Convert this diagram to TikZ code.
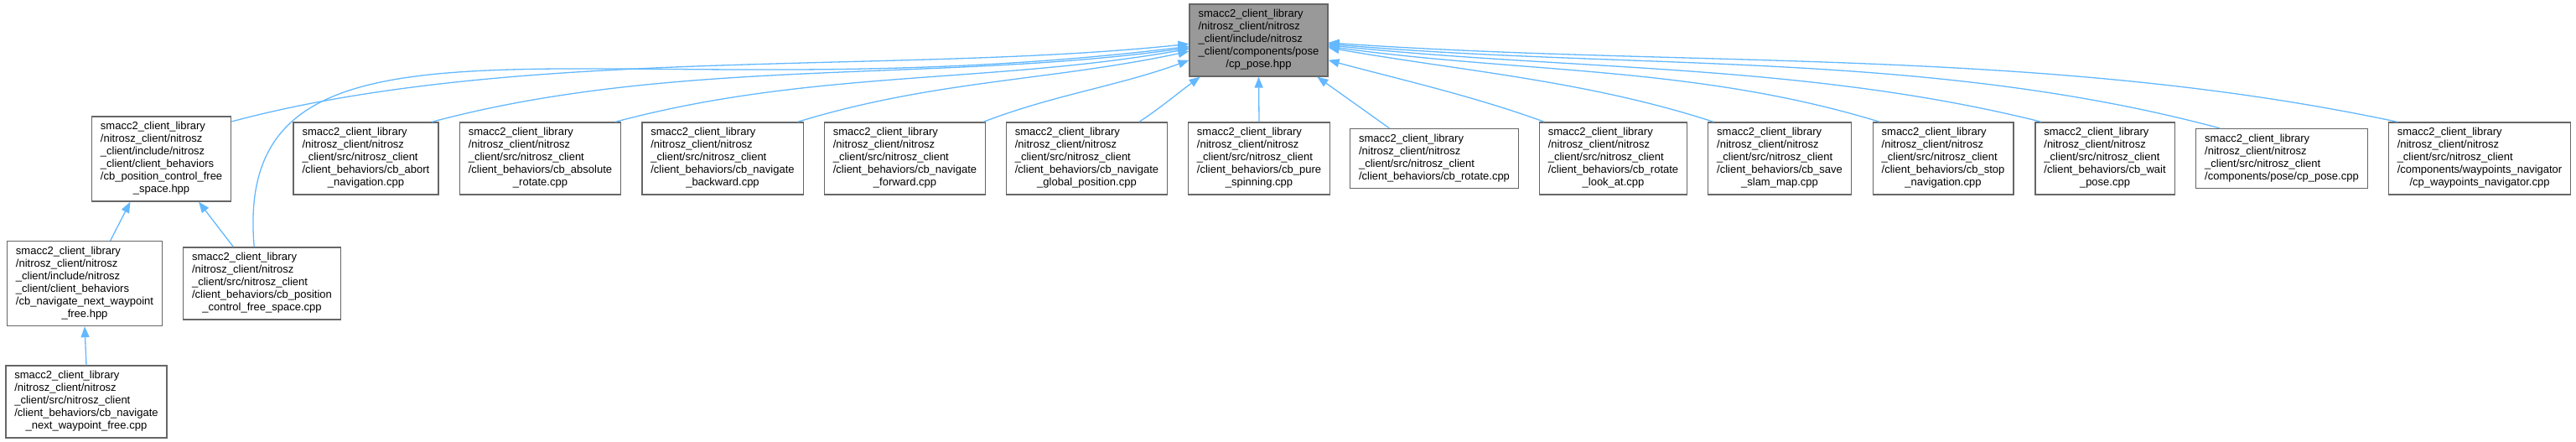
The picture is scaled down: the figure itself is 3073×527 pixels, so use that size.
\documentclass[tikz,border=0pt]{standalone}
\usepackage{fontspec}
\setmainfont{Liberation Sans}
\usetikzlibrary{arrows.meta}
\definecolor{edgeblue}{HTML}{63B8FF}
\definecolor{boxgray}{HTML}{666666}
\definecolor{rootgray}{HTML}{999999}
\newcommand{\flines}[2]{\begin{tabular}{@{}l@{}}#1\\\multicolumn{1}{@{}c@{}}{#2}\end{tabular}}
\newcommand{\srcfile}[2]{\flines{smacc2\_client\_library\\/nitrosz\_client/nitrosz\\\_client/src/nitrosz\_client\\#1}{#2}}
\newcommand{\srcfilefour}[1]{\begin{tabular}{@{}l@{}}smacc2\_client\_library\\/nitrosz\_client/nitrosz\\\_client/src/nitrosz\_client\\#1\end{tabular}}
\tikzset{
  file/.style={draw=boxgray, fill=white, line width=1.3pt, inner xsep=10.5pt, inner ysep=5.5pt,
    font=\fontsize{13}{15}\selectfont},
  rootfile/.style={file, fill=rootgray},
  dep/.style={draw=edgeblue, line width=1.3pt, -{Triangle[length=13pt,width=10pt]}}
}
\begin{document}
\begin{tikzpicture}[x=1pt,y=1pt]
\useasboundingbox (0,0) rectangle (3073,527);
\node[rootfile] (pose) at (1501.5,479)
  {\flines{smacc2\_client\_library\\/nitrosz\_client/nitrosz\\\_client/include/nitrosz\\\_client/components/pose}{/cp\_pose.hpp}};
\node[file] (hppfree) at (192.6,337.5)
  {\flines{smacc2\_client\_library\\/nitrosz\_client/nitrosz\\\_client/include/nitrosz\\\_client/client\_behaviors\\/cb\_position\_control\_free}{\_space.hpp}};
\node[file] (hppnext) at (101,189)
  {\flines{smacc2\_client\_library\\/nitrosz\_client/nitrosz\\\_client/include/nitrosz\\\_client/client\_behaviors\\/cb\_navigate\_next\_waypoint}{\_free.hpp}};
\node[file] (cppfree) at (312.5,189) {\srcfile{/client\_behaviors/cb\_position}{\_control\_free\_space.cpp}};
\node[file] (cppnext) at (103,48) {\srcfile{/client\_behaviors/cb\_navigate}{\_next\_waypoint\_free.cpp}};
\foreach \n/\x/\a/\b in {abort/436.5/abort/navigation.cpp, absolute/644.5/absolute/rotate.cpp,
  backward/862/navigate/backward.cpp, forward/1079.5/navigate/forward.cpp,
  global/1296.5/navigate/global\_position.cpp, pure/1502/pure/spinning.cpp,
  lookat/1924.5/rotate/look\_at.cpp, save/2123/save/slam\_map.cpp,
  stop/2318/stop/navigation.cpp, wait/2511/wait/pose.cpp}{
  \node[file] (\n) at (\x,338) {\srcfile{/client\_behaviors/cb\_\a}{\_\b}};
}
\node[file] (rotate) at (1711,338) {\srcfilefour{/client\_behaviors/cb\_rotate.cpp}};
\node[file] (cppose) at (2722,338) {\srcfilefour{/components/pose/cp\_pose.cpp}};
\node[file] (waypoints) at (2958,338)
  {\srcfile{/components/waypoints\_navigator}{/cp\_waypoints\_navigator.cpp}};
\draw[dep] (hppnext.59) -- (hppfree.234);
\draw[dep] (cppfree.128) -- (hppfree.311);
\draw[dep] (cppnext.north) -- (hppnext.south);
\draw[dep] (cppfree.102) .. controls +(95:330) and +(187:700) .. (pose.185);
\foreach \n/\s/\o/\t/\i/\r in {hppfree/28/15/183/186/350, abort/29/15/186/188/300,
  absolute/26/15/187/190/240, backward/26/17/189/192/170, forward/25/21/196/200/90,
  global/35/33/212/216/30, lookat/152/160/344/345/90, save/151/162/354/350/160,
  stop/150/163/355/352/230, wait/150/166/356/354/290, cppose/154/165/357/355/360,
  waypoints/156/168/358/356/430}{
  \draw[dep] (\n.\s) .. controls +(\o:\r) and +(\i:\r) .. (pose.\t);
}
\draw[dep] (pure.north) -- (pose.south);
\draw[dep] (rotate.146) -- (pose.328);
\end{tikzpicture}
\end{document}
